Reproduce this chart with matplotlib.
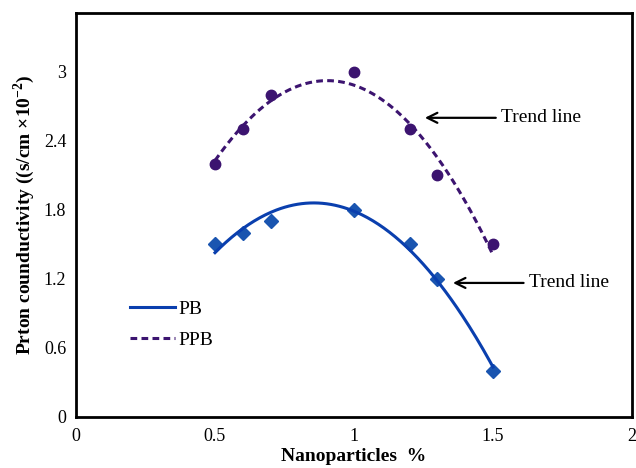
import numpy as np
import matplotlib
matplotlib.use("Agg")
import matplotlib.pyplot as plt

x = [0.5, 0.6, 0.7, 1.0, 1.2, 1.3, 1.5]
pb = [1.5, 1.6, 1.7, 1.8, 1.5, 1.2, 0.4]
ppb = [2.2, 2.5, 2.8, 3.0, 2.5, 2.1, 1.5]
xticks = [0, 0.5, 1, 1.5, 2]
yticks = [0, 0.6, 1.2, 1.8, 2.4, 3.0]
ytick_labels = ["0", "0.6", "1.2", "1.8", "2.4", "3"]
xtick_labels = ["0", "0.5", "1", "1.5", "2"]

plt.rcParams['font.family'] = ['Liberation Serif', 'DejaVu Serif']
plt.rcParams['mathtext.fontset'] = 'custom'
plt.rcParams['mathtext.rm'] = 'Liberation Serif'
plt.rcParams['mathtext.bf'] = 'Liberation Serif:bold'

fig = plt.figure(figsize=(6.36, 4.68), dpi=100)
ax = fig.add_axes([0.1195, 0.109, 0.8742, 0.863])

c_pb = '#0a3fae'
c_pbm = '#1a55b0'
c_ppb = '#3c1470'

xf = np.linspace(min(x), max(x), 200)
pfit = np.polyfit(x, pb, 2)
qfit = np.polyfit(x, ppb, 2)

ax.plot(x, pb, linestyle='none', marker='D', markersize=7, color=c_pbm)
ax.plot(x, ppb, linestyle='none', marker='o', markersize=7.5, color=c_ppb)
ax.plot(xf, np.polyval(pfit, xf), '-', color=c_pb, lw=2.2, label='PB')
ax.plot(xf, np.polyval(qfit, xf), '--', color=c_ppb, lw=2.2, dashes=(2.2, 1.4), label='PPB')

ax.set_xlim(0, 2)
ax.set_ylim(0, 3.51)
ax.set_xticks(xticks)
ax.set_xticklabels(xtick_labels)
ax.set_yticks(yticks)
ax.set_yticklabels(ytick_labels)
ax.tick_params(length=0, labelsize=13)
ax.tick_params(axis='x', pad=8)
ax.tick_params(axis='y', pad=7)
for s in ax.spines.values():
    s.set_linewidth(2)
    s.set_color('black')

ax.set_xlabel('Nanoparticles  %', fontsize=14, fontweight='bold', labelpad=2)
ax.set_ylabel(r'Prton counductivity ((s/cm ×10$^{\mathbf{-2}}$)', fontsize=14, fontweight='bold', labelpad=5)

leg = ax.legend(loc='upper left', bbox_to_anchor=(0.066, 0.333), frameon=False, fontsize=14,
                handlelength=2.3, handletextpad=0.2, labelspacing=0.7)

ax.annotate('Trend line', xy=(1.255, 2.6), xytext=(1.53, 2.6), fontsize=14, va='center', ha='left',
            arrowprops=dict(arrowstyle='->', color='black', lw=1.6, mutation_scale=18, shrinkA=2, shrinkB=0))
ax.annotate('Trend line', xy=(1.356, 1.165), xytext=(1.63, 1.165), fontsize=14, va='center', ha='left',
            arrowprops=dict(arrowstyle='->', color='black', lw=1.6, mutation_scale=18, shrinkA=2, shrinkB=0))

fig.savefig('out.png', dpi=100)
